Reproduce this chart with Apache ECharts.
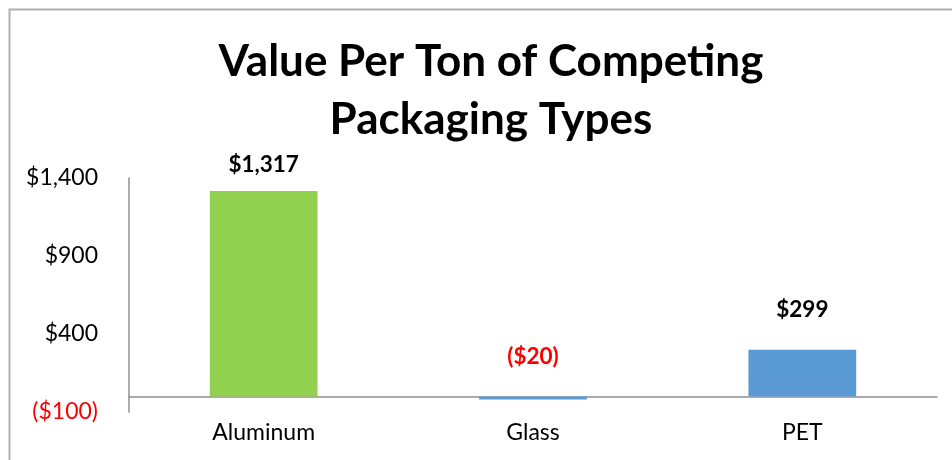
<!DOCTYPE html>
<html>
<head>
<meta charset="utf-8">
<script src="https://cdn.jsdelivr.net/npm/echarts@6/dist/echarts.min.js"></script>
<style>
html,body{margin:0;padding:0;background:#fff;}
#c{width:952px;height:460px;}
</style>
</head>
<body>
<div id="c"></div>
<script>
const titleLines = ['Value Per Ton of Competing', 'Packaging Types'];
const categories = ['Aluminum', 'Glass', 'PET'];
const values = [1317, -20, 299];
const yMin = -100, yMax = 1400, yInterval = 500;

// styling (not data)
const barColors = ['#92d050', '#5b9bd5', '#5b9bd5'];
const labelDist = [15, 28, 29];
const FONT = 'Lato, "Open Sans", "Liberation Sans", sans-serif';

function money(v) {
  const s = '$' + Math.abs(v).toLocaleString('en-US');
  return v < 0 ? '(' + s + ')' : s;
}

const chart = echarts.init(document.getElementById('c'), null, {renderer: 'canvas'});
chart.setOption({
  animation: false,
  backgroundColor: '#ffffff',
  title: {
    text: titleLines.join('\n'),
    left: 486,
    textAlign: 'center',
    top: 28,
    textStyle: {fontFamily: FONT, fontWeight: 'bold', fontSize: 44, lineHeight: 58, color: '#000'}
  },
  graphic: [{
    type: 'rect', left: 7, top: 7, silent: true,
    shape: {x: 0, y: 0, width: 1100, height: 1100},
    style: {fill: 'none', stroke: '#b0b0b0', lineWidth: 2}
  }],
  grid: {left: 129, right: 15, top: 178, bottom: 48, containLabel: false},
  xAxis: {
    type: 'category',
    data: categories,
    axisLine: {onZero: true, lineStyle: {color: '#909090', width: 1.5}},
    axisTick: {show: false},
    axisLabel: {fontFamily: FONT, fontSize: 23, color: '#000', margin: 9}
  },
  yAxis: {
    type: 'value',
    min: yMin, max: yMax, interval: yInterval,
    splitLine: {show: false},
    axisTick: {show: false},
    axisLine: {show: true, lineStyle: {color: '#909090', width: 1.5}},
    axisLabel: {
      fontFamily: FONT, fontSize: 23, margin: 31,
      formatter: v => money(v),
      color: v => (Number(v) < 0 ? '#ff0000' : '#000000')
    }
  },
  series: [{
    type: 'bar',
    barWidth: '40%',
    data: values.map((v, i) => ({
      value: v,
      itemStyle: {color: barColors[i]},
      label: {
        show: true, position: 'top', distance: labelDist[i],
        formatter: p => money(p.value),
        fontFamily: FONT, fontWeight: 'bold', fontSize: 22.5,
        color: v < 0 ? '#ff0000' : '#000000'
      }
    }))
  }]
});
</script>
</body>
</html>
